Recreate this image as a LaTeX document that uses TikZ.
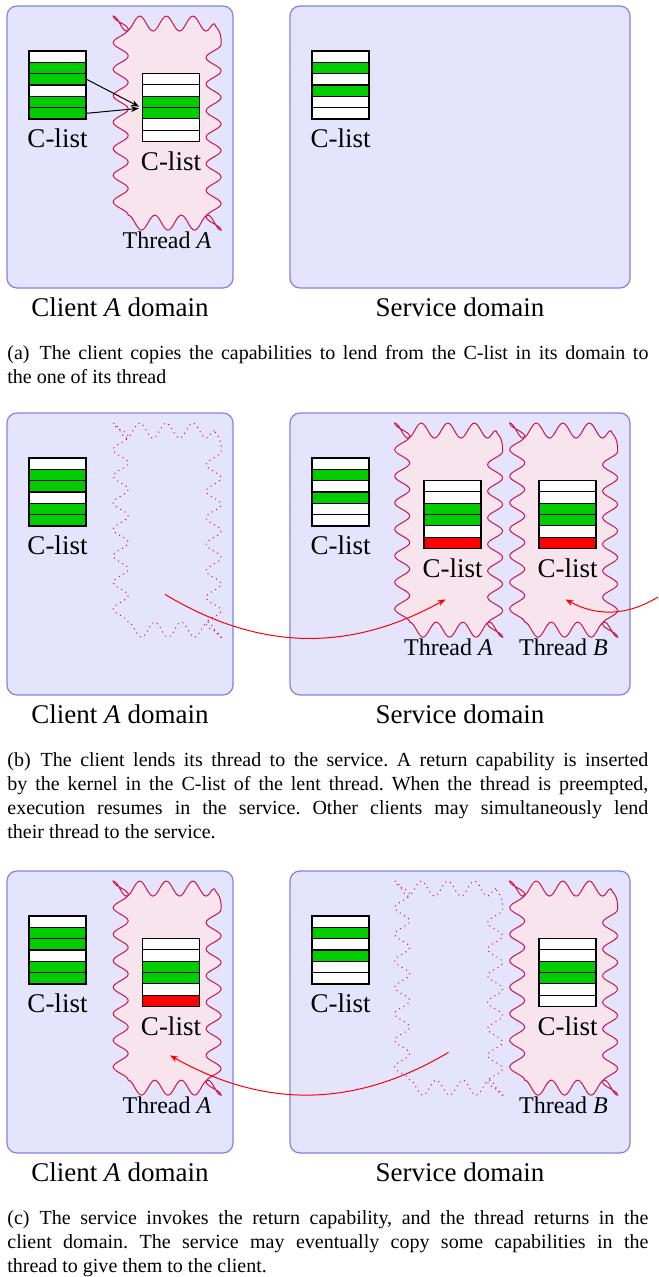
\documentclass[tikz,border=0pt]{standalone}
\usepackage{fontspec}
\setmainfont{Liberation Serif}
\usetikzlibrary{positioning}
\usetikzlibrary{arrows.meta}
\usetikzlibrary{decorations.pathmorphing}

\definecolor{domfill}{RGB}{228,228,252}
\definecolor{domline}{RGB}{130,130,224}
\definecolor{thfill}{RGB}{248,228,236}
\definecolor{thline}{RGB}{204,20,80}
\definecolor{capgreen}{RGB}{0,204,0}

\tikzset{
  domain/.style={draw=domline, fill=domfill, line width=0.6pt, rounded corners=5pt,
    minimum width=#1, minimum height=141pt, inner sep=0pt},
  dlabel/.style={inner sep=0pt, font=\fontsize{13.5}{16}\selectfont},
  threadbox/.style={minimum width=47pt, minimum height=99pt, inner sep=0pt},
  threadline/.style={draw=thline, fill=thfill, line width=0.5pt, decorate,
    decoration={snake, segment length=13.27pt, amplitude=3.75pt}},
  ghostline/.style={threadline, fill=none, dotted},
  tlabel/.style={inner sep=0pt, font=\fontsize{12}{14}\selectfont},
  slot/.style={draw, line width=0.6pt, minimum width=28.5pt, minimum height=5.67pt, inner sep=0pt},
  clabel/.style={inner sep=0pt, font=\fontsize{13.5}{16}\selectfont},
  copy/.style={-{Stealth[length=4pt,width=3pt]}, line width=0.5pt, shorten >=1.5pt},
  lend/.style={-{Stealth[length=4pt,width=3pt]}, red, line width=0.5pt},
  caption/.style={anchor=north west, inner sep=0pt, text width=320.5pt, align=justify,
    font=\fontsize{10}{12}\selectfont\frenchspacing}
}

% C-list: name, centre x, top y, slot colours
\newcommand{\clist}[4]{%
  \foreach \col [count=\i] in {#4}
    \node[slot, fill=\col] (#1-\i) at (#2, {#3+(\i-0.5)*11.33}) {};
  \node[clabel, below=4.5pt of #1-6] (#1-lbl) {C-list};
}
% wavy outline of a thread box
\newcommand{\wavy}[2]{%
  \path[#1] (#2.north east) -- (#2.north west) -- (#2.south west) -- (#2.south east) -- cycle;
}

\begin{document}
\begin{tikzpicture}[x=0.5pt,y=-0.5pt]
  \useasboundingbox (0,0) rectangle (658,1277);
  % (a)
  \begin{scope}
    \node[domain=113pt] (a-cd) at (120,147) {};
    \node[domain=170pt] (a-sd) at (460,147) {};
    \node[dlabel, below=4.5pt of a-cd] {Client \textit{A} domain};
    \node[dlabel, below=4.5pt of a-sd] {Service domain};
    \node[threadbox] (a-thA) at (167,123) {};
    \wavy{threadline}{a-thA}
    \node[tlabel, below=4.5pt of a-thA] {Thread \textit{A}};
    \clist{a-ccl}{57.5}{51}{white,capgreen,capgreen,white,capgreen,capgreen}
    \clist{a-tcl}{171}{73.5}{white,white,capgreen,capgreen,white,white}
    \clist{a-scl}{340.5}{51}{white,capgreen,white,capgreen,white,white}
    \draw[copy] (a-ccl-3.east) -- (a-tcl-3.south west);
    \draw[copy] (a-ccl-6.east) -- (a-tcl-3.south west);
    \node[caption] (a-cap) at (7,345) {(a)\enskip The client copies the capabilities to lend from the C-list in its domain to\linebreak the one of its thread};
  \end{scope}
  % (b)
  \begin{scope}[shift={(0,407)}]
    \node[domain=113pt] (b-cd) at (120,147) {};
    \node[domain=170pt] (b-sd) at (460,147) {};
    \node[dlabel, below=4.5pt of b-cd] {Client \textit{A} domain};
    \node[dlabel, below=4.5pt of b-sd] {Service domain};
    \node[threadbox] (b-gh) at (167,123) {};
    \wavy{ghostline}{b-gh}
    \node[threadbox] (b-thA) at (448.5,123) {};
    \wavy{threadline}{b-thA}
    \node[threadbox] (b-thB) at (563.5,123) {};
    \wavy{threadline}{b-thB}
    \node[tlabel, below=4.5pt of b-thA] {Thread \textit{A}};
    \node[tlabel, below=4.5pt of b-thB] {Thread \textit{B}};
    \clist{b-ccl}{57.5}{51}{white,capgreen,capgreen,white,capgreen,capgreen}
    \clist{b-scl}{340.5}{51}{white,capgreen,white,capgreen,white,white}
    \clist{b-tclA}{452.5}{73.5}{white,white,capgreen,capgreen,white,red}
    \clist{b-tclB}{567.5}{73.5}{white,white,capgreen,capgreen,white,red}
    \coordinate (b-from) at ([xshift=-1pt,yshift=17.5pt]b-gh.south);
    \coordinate (b-toA) at ([xshift=-1.5pt,yshift=15pt]b-thA.south);
    \coordinate (b-edge) at (658,190);
    \coordinate (b-toB) at ([xshift=1pt,yshift=15pt]b-thB.south);
    \draw[lend] (b-from) to[bend right=30] (b-toA);
    \draw[lend] (b-edge) to[bend left=30] (b-toB);
    \node[caption] (b-cap) at (7,345) {(b)\enskip The client lends its thread to the service. A return capability is inserted\linebreak by the kernel in the C-list of the lent thread. When the thread is preempted,\linebreak execution resumes in the service. Other clients may simultaneously lend\linebreak their thread to the service.};
  \end{scope}
  % (c)
  \begin{scope}[shift={(0,865)}]
    \node[domain=113pt] (c-cd) at (120,147) {};
    \node[domain=170pt] (c-sd) at (460,147) {};
    \node[dlabel, below=4.5pt of c-cd] {Client \textit{A} domain};
    \node[dlabel, below=4.5pt of c-sd] {Service domain};
    \node[threadbox] (c-thA) at (167,123) {};
    \wavy{threadline}{c-thA}
    \node[threadbox] (c-gh) at (448.5,123) {};
    \wavy{ghostline}{c-gh}
    \node[threadbox] (c-thB) at (563.5,123) {};
    \wavy{threadline}{c-thB}
    \node[tlabel, below=4.5pt of c-thA] {Thread \textit{A}};
    \node[tlabel, below=4.5pt of c-thB] {Thread \textit{B}};
    \clist{c-ccl}{57.5}{51}{white,capgreen,capgreen,white,capgreen,capgreen}
    \clist{c-tcl}{171}{73.5}{white,white,capgreen,capgreen,white,red}
    \clist{c-scl}{340.5}{51}{white,capgreen,white,capgreen,white,white}
    \clist{c-tclB}{567.5}{73.5}{white,white,capgreen,capgreen,white,white}
    \coordinate (c-from) at ([yshift=17.5pt]c-gh.south);
    \coordinate (c-to) at ([xshift=1.5pt,yshift=16pt]c-thA.south);
    \draw[lend] (c-from) to[bend left=30] (c-to);
    \node[caption] (c-cap) at (7,345) {(c)\enskip The service invokes the return capability, and the thread returns in the\linebreak client domain. The service may eventually copy some capabilities in the\linebreak thread to give them to the client.};
  \end{scope}
\end{tikzpicture}
\end{document}
